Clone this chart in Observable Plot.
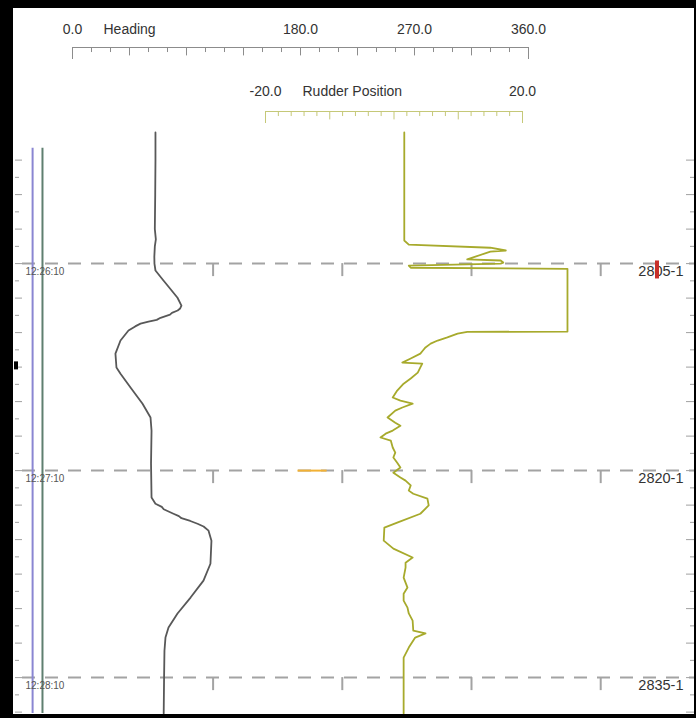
<!DOCTYPE html>
<html><head><meta charset="utf-8">
<script src="https://cdn.jsdelivr.net/npm/d3@7"></script>
<script src="https://cdn.jsdelivr.net/npm/@observablehq/plot@0.6"></script>
<style>
body{margin:0;background:#fff}
#chart{position:relative;width:696px;height:718px;overflow:hidden;background:#fff;font-family:"Liberation Sans",Arial,sans-serif}
#chart svg{position:absolute;left:0;top:0}
#frame{position:absolute;left:0;top:0;width:696px;height:718px;box-sizing:border-box;border-style:solid;border-color:#000;border-width:8px 2px 4px 13px;pointer-events:none}
</style></head><body><div id="chart"></div>
<script>
// ---------- data ----------
const headingTime = ["12:25:32","12:25:40","12:25:50","12:26:00","12:26:03","12:26:05","12:26:08","12:26:10","12:26:12","12:26:14.9","12:26:17","12:26:19.9","12:26:22.2","12:26:23.0","12:26:23.6","12:26:24.3","12:26:24.8","12:26:25.7","12:26:26.3","12:26:26.8","12:26:27.4","12:26:28.2","12:26:29.4","12:26:32.3","12:26:36.1","12:26:40.1","12:26:41.9","12:26:45.9","12:26:50.6","12:26:54.6","12:26:58.4","12:27:08","12:27:17.8","12:27:19.6","12:27:20.5","12:27:21.2","12:27:22.5","12:27:23.2","12:27:23.8","12:27:24.6","12:27:25.4","12:27:26.2","12:27:27.4","12:27:30.3","12:27:37","12:27:41.9","12:27:46.8","12:27:51.4","12:27:55.5","12:27:58.4","12:28:02.2","12:28:10","12:28:20.4"];
const headingDeg = [65.5,65.5,65.3,65.0,65.8,65.0,64.6,64.7,65.5,71.8,76.5,82.9,86.0,85.0,83.0,78.5,77.0,69.5,66.5,60.0,53.7,49.5,44.2,37.9,33.9,34.7,37.9,45.8,55.3,61.6,62.4,62.0,62.4,65.5,70.5,72.0,79.7,84.0,86.0,93.0,98.7,103.5,107.4,109.7,108.9,103.4,93.2,82.9,75.8,73.4,72.6,72.3,72.0];

const rudderTime = ["12:25:32","12:26:03.3","12:26:04.5","12:26:05.4","12:26:06.2","12:26:06.5","12:26:08.8","12:26:09.1","12:26:09.7","12:26:10.0","12:26:10.6","12:26:11.2","12:26:11.5","12:26:29.7","12:26:29.8","12:26:30.3","12:26:31.4","12:26:32.3","12:26:33.2","12:26:34.3","12:26:35.2","12:26:36.1","12:26:37.5","12:26:38.7","12:26:39.0","12:26:40.1","12:26:41.6","12:26:43.3","12:26:44.8","12:26:46.8","12:26:48.8","12:26:49.7","12:26:50.6","12:26:51.7","12:26:52.6","12:26:54.6","12:26:56.1","12:26:57.0","12:26:58.4","12:26:59.3","12:27:00.4","12:27:01.3","12:27:03.3","12:27:04.8","12:27:06.2","12:27:07.7","12:27:09.1","12:27:10.6","12:27:12.0","12:27:12.9","12:27:14.3","12:27:15.8","12:27:16.7","12:27:18.1","12:27:20.1","12:27:22.5","12:27:25.1","12:27:26.5","12:27:30.3","12:27:32.6","12:27:35.2","12:27:36.7","12:27:38.1","12:27:41.0","12:27:43.9","12:27:45.7","12:27:47.7","12:27:49.7","12:27:51.4","12:27:53.5","12:27:56.4","12:27:57.2","12:27:58.4","12:28:01.3","12:28:04.2","12:28:10.9","12:28:20.4"];
const rudderDeg = [1.6,1.6,2.3,15.0,17.4,15.0,11.4,16.6,17.0,16.6,2.3,2.6,27.0,27.0,11.4,9.9,8.3,6.8,5.7,4.9,4.5,4.1,2.6,1.3,4.4,4.1,3.7,2.6,1.5,0.5,-0.2,1.0,2.9,1.3,0.2,-1.0,0.2,1.0,-0.2,-1.3,-2.1,-0.5,-0.2,0.2,-0.1,0.5,1.0,-0.1,1.0,1.8,2.6,2.3,3.0,5.2,5.4,4.1,0.5,-1.5,-1.6,-0.1,2.9,1.8,1.8,1.5,2.1,1.5,1.5,2.1,2.3,2.9,3.0,4.9,3.3,2.3,1.5,1.5,1.5];

const headingTicks = [0,15,30,45,60,75,90,105,120,135,150,165,180,195,210,225,240,255,270,285,300,315,330,345,360];
const headingTickLabels = [0,180,270,360];
const rudderTicks = [-20,-18,-16,-14,-12,-10,-8,-6,-4,-2,0,2,4,6,8,10,12,14,16,18,20];
const rudderTickLabels = [-20,20];

const gridTimes = ["12:26:10","12:27:10","12:28:10"];
const gridTimeLabels = ["12:26:10","12:27:10","12:28:10"];
const shotLabels = ["2805-1","2820-1","2835-1"];
const gridMarkHeading = [111,213,315,417];
const auxChannels = [-31.5,-23.7];
const auxStart = "12:25:36.6", auxEnd = "12:28:20.4";
const markerTime = "12:26:11.7";
const eventTime = "12:26:39.5";

// ---------- helpers ----------
const T = s => { const [h,m,sec] = s.split(":"); return new Date(Date.UTC(2012,0,1,+h,+m,0) + (+sec)*1000); };
const W = 696, H = 718;
const yScale = {type:"utc", domain:[T("12:25:32"), T("12:28:20.4")], range:[132,713], axis:null};
const font = '"Liberation Sans", Arial, sans-serif';
const transparent = {background:"transparent", overflow:"visible", fontFamily: font};

const scaleTicks = [];
for (let t = +T("12:25:40"); t <= +T("12:28:20"); t += 5000) scaleTicks.push(new Date(t));
const majorTicks = scaleTicks.filter(d => d.getUTCSeconds() % 10 === 0);
const minorTicks = scaleTicks.filter(d => d.getUTCSeconds() % 10 !== 0);

const heading = headingTime.map((t,i) => ({t:T(t), v:headingDeg[i]}));
const rudder = rudderTime.map((t,i) => ({t:T(t), v:rudderDeg[i]}));
const grid = gridTimes.map((t,i) => ({t:T(t), label:gridTimeLabels[i], shot:shotLabels[i]}));
const gridMarks = grid.flatMap(g => gridMarkHeading.map(x => ({t:g.t, x})));

// ---------- heading track ----------
const headingPlot = Plot.plot({
  width:W, height:H, margin:0, style:transparent,
  x:{domain:[0,360], range:[72,528], axis:null},
  y:yScale,
  marks:[
    Plot.tickY(minorTicks, {y:d=>d, insetLeft:15, insetRight:W-19, stroke:"#a0a0a0"}),
    Plot.tickY(majorTicks, {y:d=>d, insetLeft:15, insetRight:W-22, stroke:"#a0a0a0"}),
    Plot.tickY(minorTicks, {y:d=>d, insetLeft:690, insetRight:2, stroke:"#a0a0a0"}),
    Plot.tickY(majorTicks, {y:d=>d, insetLeft:686, insetRight:2, stroke:"#a0a0a0"}),
    Plot.ruleY(grid, {y:"t", insetLeft:22, insetRight:1, stroke:"#a3a3a3", strokeWidth:2, strokeDasharray:"13,10"}),
    Plot.ruleX(gridMarks, {x:"x", y1:"t", y2:"t", insetBottom:-13, stroke:"#a3a3a3", strokeWidth:2}),
    Plot.ruleY([{t:T("12:27:10"), x1:178, x2:201}], {y:"t", x1:"x1", x2:"x2", stroke:"#f2b134", strokeWidth:2}),
    Plot.ruleX([auxChannels[0]], {x:d=>d, y1:T(auxStart), y2:T(auxEnd), stroke:"#8a86d2", strokeWidth:2}),
    Plot.ruleX([auxChannels[1]], {x:d=>d, y1:T(auxStart), y2:T(auxEnd), stroke:"#5f7f70", strokeWidth:2}),
    Plot.text(grid, {y:"t", text:"label", frameAnchor:"left", dx:25, dy:8, textAnchor:"start", fontSize:10, fill:"#555"}),
    Plot.text(grid, {y:"t", text:"shot", frameAnchor:"right", dx:-13, dy:8, textAnchor:"end", fontSize:14.5, fill:"#333"}),
    Plot.ruleY([T(markerTime)], {y:d=>d, insetLeft:655, insetRight:W-659, stroke:"#c8302a", strokeWidth:18}),
    Plot.ruleY([T(eventTime)], {y:d=>d, insetLeft:14, insetRight:W-18, stroke:"#000", strokeWidth:8}),
    Plot.line(heading, {x:"v", y:"t", stroke:"#585858", strokeWidth:1.8})
  ]
});

// ---------- rudder track ----------
const rudderPlot = Plot.plot({
  width:W, height:H, margin:0, style:transparent,
  x:{domain:[-20,20], range:[265,522], axis:null},
  y:yScale,
  marks:[
    Plot.line(rudder, {x:"v", y:"t", stroke:"#a7aa2c", strokeWidth:1.8})
  ]
});

// ---------- heading axis ----------
const headingAxis = Plot.plot({
  width:W, height:80, margin:0, style:transparent,
  x:{domain:[0,360], range:[72,528], axis:null},
  y:{domain:[0,1], range:[47,59], axis:null},
  marks:[
    Plot.ruleY([0], {x1:0, x2:360, stroke:"#8c8c8c"}),
    Plot.ruleX(headingTicks, {x:d=>d, y1:0, y2:d => (d===0||d===360) ? 1 : d%45===0 ? 0.7 : 0.42, stroke:"#8c8c8c"}),
    Plot.text(headingTickLabels, {x:d=>d, y:0, dy:-18, text:d=>d.toFixed(1), fontSize:14, fill:"#333"}),
    Plot.text(["Heading"], {x:0, y:0, dx:31, dy:-18, textAnchor:"start", fontSize:14, fill:"#333"})
  ]
});

// ---------- rudder axis ----------
const rudderAxis = Plot.plot({
  width:W, height:140, margin:0, style:transparent,
  x:{domain:[-20,20], range:[265,522], axis:null},
  y:{domain:[0,1], range:[111,123], axis:null},
  marks:[
    Plot.ruleY([0], {x1:-20, x2:20, stroke:"#c5c878"}),
    Plot.ruleX(rudderTicks, {x:d=>d, y1:0, y2:d => Math.abs(d)===20 ? 1 : d%10===0 ? 0.7 : 0.42, stroke:"#c5c878"}),
    Plot.text(rudderTickLabels, {x:d=>d, y:0, dy:-20, text:d=>d.toFixed(1), fontSize:14, fill:"#333"}),
    Plot.text(["Rudder Position"], {x:-20, y:0, dx:37, dy:-20, textAnchor:"start", fontSize:14, fill:"#333"})
  ]
});

const chart = document.getElementById("chart");
chart.append(headingPlot, rudderPlot, headingAxis, rudderAxis);
const frame = document.createElement("div");
frame.id = "frame";
chart.append(frame);
</script></body></html>
